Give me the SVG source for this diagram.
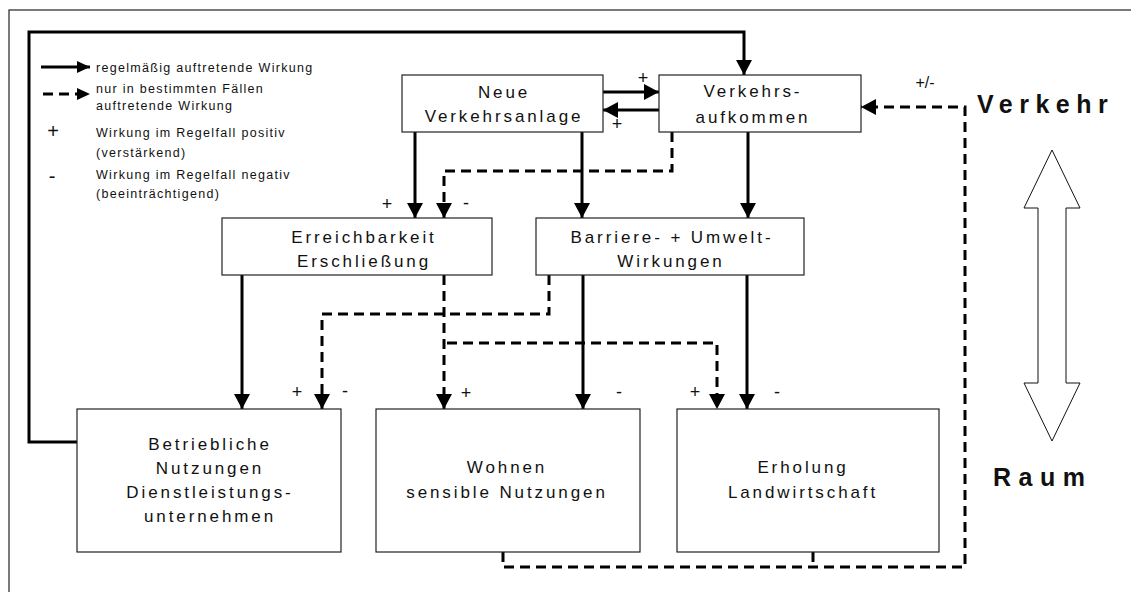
<svg xmlns="http://www.w3.org/2000/svg" width="1131" height="592" viewBox="0 0 1131 592">
<defs>
<style>
.box{fill:#fff;stroke:#222;stroke-width:1.2}
.t{font-family:"Liberation Sans",Arial,sans-serif;font-size:17px;letter-spacing:2.9px;fill:#111;text-anchor:middle}
.lg{font-family:"Liberation Sans",Arial,sans-serif;font-size:12.5px;letter-spacing:1.3px;fill:#111}
.s{font-family:"Liberation Sans",Arial,sans-serif;font-size:18px;fill:#111;text-anchor:middle}
.big{font-family:"Liberation Sans",Arial,sans-serif;font-size:25px;font-weight:bold;letter-spacing:6.5px;fill:#111}
.sol{fill:none;stroke:#000;stroke-width:3}
.dash{fill:none;stroke:#000;stroke-width:3;stroke-dasharray:10 6}
</style>
<marker id="ah" markerUnits="userSpaceOnUse" markerWidth="16" markerHeight="16" refX="15" refY="8" orient="auto"><path d="M0,0 L15,8 L0,16 z" fill="#000"/></marker>
<marker id="ahs" markerUnits="userSpaceOnUse" markerWidth="14" markerHeight="12" refX="13" refY="6" orient="auto"><path d="M0,0 L13,6 L0,12 z" fill="#000"/></marker>
</defs>
<rect x="0" y="0" width="1131" height="592" fill="#fff"/>
<rect x="9" y="10" width="1300" height="700" fill="none" stroke="#222" stroke-width="1.2"/>

<g id="legend">
<line class="sol" x1="41" y1="67" x2="90" y2="67" marker-end="url(#ahs)"/>
<text class="lg" x="96" y="72">regelmäßig auftretende Wirkung</text>
<line class="dash" x1="43" y1="94" x2="90" y2="94" marker-end="url(#ahs)" stroke-dasharray="10 8"/>
<text class="lg" x="96" y="93">nur in bestimmten Fällen</text>
<text class="lg" x="96" y="110">auftretende Wirkung</text>
<text class="s" x="53" y="138" style="font-size:20px">+</text>
<text class="lg" x="96" y="137">Wirkung im Regelfall positiv</text>
<text class="lg" x="96" y="157">(verstärkend)</text>
<text class="s" x="52" y="183" style="font-size:20px">-</text>
<text class="lg" x="96" y="179">Wirkung im Regelfall negativ</text>
<text class="lg" x="96" y="198">(beeinträchtigend)</text>
</g>

<g id="connectors">
<polyline class="sol" points="77,442 29,442 29,32 744,32 744,75" marker-end="url(#ah)"/>
<line class="sol" x1="603" y1="92" x2="659" y2="92" marker-end="url(#ah)"/>
<line class="sol" x1="661" y1="110" x2="603" y2="110" marker-end="url(#ah)"/>
<line class="sol" x1="415" y1="132" x2="415" y2="218" marker-end="url(#ah)"/>
<polyline class="dash" points="672,132 672,171 444,171 444,218" marker-end="url(#ah)"/>
<line class="sol" x1="582" y1="132" x2="582" y2="218" marker-end="url(#ah)"/>
<line class="sol" x1="748" y1="132" x2="748" y2="218" marker-end="url(#ah)"/>
<line class="sol" x1="242" y1="275" x2="242" y2="409" marker-end="url(#ah)"/>
<polyline class="dash" points="549,275 549,314 322,314 322,409" marker-end="url(#ah)"/>
<line class="dash" x1="444" y1="275" x2="444" y2="409" marker-end="url(#ah)"/>
<polyline class="dash" points="447,343 717,343 717,409" marker-end="url(#ah)"/>
<line class="sol" x1="583" y1="275" x2="583" y2="409" marker-end="url(#ah)"/>
<line class="sol" x1="747" y1="275" x2="747" y2="409" marker-end="url(#ah)"/>
<polyline class="dash" points="503,552 503,567 965,567 965,107 861,107" marker-end="url(#ah)"/>
<line class="dash" x1="813" y1="552" x2="813" y2="567"/>
</g>

<g id="signs">
<text class="s" x="643" y="84">+</text>
<text class="s" x="617" y="130">+</text>
<text class="s" x="387" y="210">+</text>
<text class="s" x="466" y="209">-</text>
<text class="s" x="297" y="398">+</text>
<text class="s" x="345" y="397">-</text>
<text class="s" x="466" y="399">+</text>
<text class="s" x="619" y="398">-</text>
<text class="s" x="695" y="398">+</text>
<text class="s" x="777" y="398">-</text>
<text class="s" x="925" y="88" style="font-size:16px">+/-</text>
</g>

<g id="neue">
<rect class="box" x="402" y="75" width="201" height="57"/>
<text class="t" x="504" y="98">Neue</text>
<text class="t" x="504" y="122">Verkehrsanlage</text>
</g>
<g id="aufkommen">
<rect class="box" x="659" y="75" width="202" height="57"/>
<text class="t" x="753" y="97">Verkehrs-</text>
<text class="t" x="753" y="123">aufkommen</text>
</g>
<g id="erreichbarkeit">
<rect class="box" x="222" y="218" width="270" height="57"/>
<text class="t" x="364" y="243">Erreichbarkeit</text>
<text class="t" x="364" y="267">Erschließung</text>
</g>
<g id="barriere">
<rect class="box" x="536" y="218" width="268" height="57"/>
<text class="t" x="672" y="243">Barriere- + Umwelt-</text>
<text class="t" x="671" y="267">Wirkungen</text>
</g>
<g id="betriebliche">
<rect class="box" x="77" y="409" width="264" height="143"/>
<text class="t" x="210" y="450">Betriebliche</text>
<text class="t" x="210" y="474">Nutzungen</text>
<text class="t" x="210" y="498">Dienstleistungs-</text>
<text class="t" x="210" y="522">unternehmen</text>
</g>
<g id="wohnen">
<rect class="box" x="376" y="409" width="264" height="143"/>
<text class="t" x="507" y="473">Wohnen</text>
<text class="t" x="507" y="498">sensible Nutzungen</text>
</g>
<g id="erholung">
<rect class="box" x="677" y="409" width="262" height="143"/>
<text class="t" x="803" y="473">Erholung</text>
<text class="t" x="803" y="498">Landwirtschaft</text>
</g>

<g id="scale">
<text class="big" x="977" y="113">Verkehr</text>
<polygon points="1052,150 1080,208 1066,208 1066,383 1080,383 1052,441 1024,383 1038,383 1038,208 1024,208" fill="#fff" stroke="#111" stroke-width="1"/>
<text class="big" x="993" y="486" style="letter-spacing:7.5px">Raum</text>
</g>
</svg>
